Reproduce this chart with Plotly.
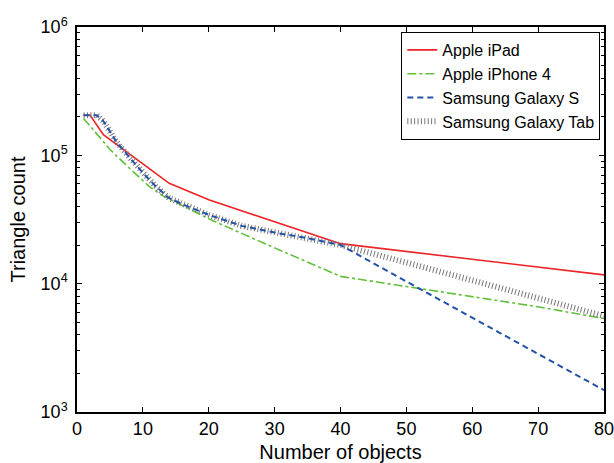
import plotly.graph_objects as go

# ---- data ----
ipad_x = [1, 2, 4, 10, 14, 20, 40, 80]
ipad_y = [205000, 205000, 145000, 85000, 60500, 45000, 20500, 11700]

iphone_x = [1, 3, 5, 8, 11, 13, 20, 30, 40, 50, 60, 70, 80]
iphone_y = [194000, 148000, 111000, 79000, 57000, 48500, 32000, 19000, 11400, 9500, 7900, 6600, 5350]

galaxy_s_x = [1, 3, 4, 5, 6, 8, 10, 12, 14, 16, 20, 25, 30, 35, 40, 50, 60, 70, 80]
galaxy_s_y = [205000, 205000, 185000, 155000, 127000, 96000, 73000, 57000, 46300, 41600,
              34400, 28200, 25000, 22600, 20000, 10400, 5450, 2840, 1480]

galaxy_tab_x = [1, 3, 4, 5, 6, 8, 10, 12, 14, 16, 20, 25, 30, 35, 40, 50, 60, 70, 80]
galaxy_tab_y = [205000, 205000, 185000, 155000, 127000, 96000, 73000, 57000, 46300, 41600,
                34400, 28200, 25000, 22600, 20000, 14600, 10600, 7700, 5600]

x_ticks = [0, 10, 20, 30, 40, 50, 60, 70, 80]
y_ticks = [1e3, 1e4, 1e5, 1e6]
y_tick_text = ["10<sup>3</sup>", "10<sup>4</sup>", "10<sup>5</sup>", "10<sup>6</sup>"]

FONT = "Liberation Sans, Arial, Helvetica, sans-serif"

fig = go.Figure()
fig.add_trace(go.Scatter(x=ipad_x, y=ipad_y, mode="lines", name="Apple iPad", legendrank=1,
                         line=dict(color="#ec2327", width=1.6)))
fig.add_trace(go.Scatter(x=iphone_x, y=iphone_y, mode="lines", name="Apple iPhone 4", legendrank=2,
                         line=dict(color="#62bf3a", width=1.6, dash="dashdot")))
fig.add_trace(go.Scatter(x=galaxy_tab_x, y=galaxy_tab_y, mode="lines", name="Samsung Galaxy Tab",
                         legendrank=4,
                         line=dict(color="#777777", width=6, dash="1px,2.4px")))
fig.add_trace(go.Scatter(x=galaxy_s_x, y=galaxy_s_y, mode="lines", name="Samsung Galaxy S", legendrank=3,
                         line=dict(color="#2352a8", width=2, dash="6px,4px")))

minor_y = []
for d in [1e3, 1e4, 1e5]:
    minor_y += [d * k for k in range(2, 10)]

fig.update_layout(
    width=614, height=463,
    margin=dict(l=77, r=10, t=27, b=51),
    paper_bgcolor="white", plot_bgcolor="white",
    font=dict(family=FONT, size=18, color="black"),
    showlegend=True,
    legend=dict(x=0.993, xanchor="right", y=0.987, yanchor="top",
                bgcolor="white", bordercolor="black", borderwidth=1,
                font=dict(family=FONT, size=16, color="black"),
                itemwidth=30, tracegroupgap=0),
    xaxis=dict(range=[0, 80], tickvals=x_ticks, ticks="inside", ticklen=5,
               tickcolor="black", showline=True, linecolor="black", linewidth=1.5,
               mirror="ticks", showgrid=False, zeroline=False, automargin=False,
               ticklabeloverflow="allow",
               title=dict(text="Number of objects", font=dict(size=20), standoff=12),
               tickfont=dict(size=18)),
    yaxis=dict(type="log", range=[3, 6], tickvals=y_ticks, ticktext=y_tick_text,
               ticks="inside", ticklen=5, tickcolor="black",
               showline=True, linecolor="black", linewidth=1.5, mirror="ticks",
               showgrid=False, zeroline=False, ticklabelstandoff=4, automargin=False,
               ticklabeloverflow="allow",
               minor=dict(tickvals=minor_y, ticks="inside", ticklen=3, tickcolor="black"),
               title=dict(text="Triangle count", font=dict(size=20), standoff=10),
               tickfont=dict(size=18)),
)

fig.write_html("out.html")
